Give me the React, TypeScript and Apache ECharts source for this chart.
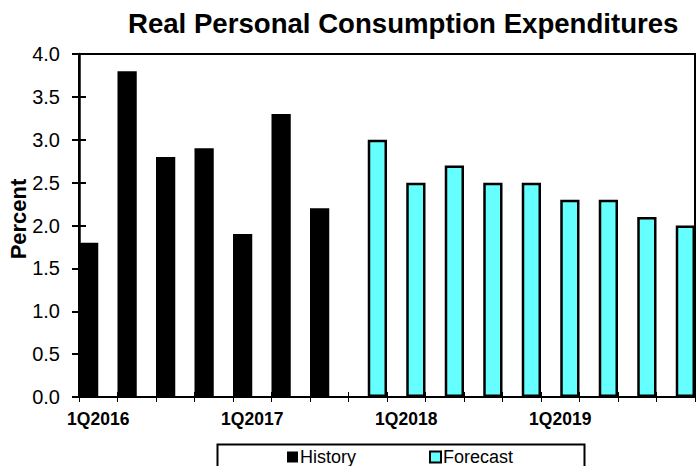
import React, { useEffect, useRef } from "react";
import * as echarts from "echarts";

const categories = [
  "1Q2016", "2Q2016", "3Q2016", "4Q2016",
  "1Q2017", "2Q2017", "3Q2017", "4Q2017",
  "1Q2018", "2Q2018", "3Q2018", "4Q2018",
  "1Q2019", "2Q2019", "3Q2019", "4Q2019",
];
const historyValues = [1.8, 3.8, 2.8, 2.9, 1.9, 3.3, 2.2, null, null, null, null, null, null, null, null, null];
const forecastValues = [null, null, null, null, null, null, null, 3.0, 2.5, 2.7, 2.5, 2.5, 2.3, 2.3, 2.1, 2.0];
const titleText = "Real Personal Consumption Expenditures";
const yAxisTitle = "Percent";
const seriesNames = ["History", "Forecast"];

const FONT = "'Liberation Sans', Arial, sans-serif";

export default function App() {
  const ref = useRef<HTMLDivElement>(null);
  useEffect(() => {
    if (!ref.current) return;
    const chart = echarts.init(ref.current, null, { renderer: "svg" });
    const yBase = {
      type: "value",
      min: 0,
      max: 4,
      interval: 0.5,
      splitLine: { show: false },
    };
    chart.setOption({
      animation: false,
      backgroundColor: "#ffffff",
      textStyle: { fontFamily: FONT },
      title: {
        text: titleText,
        left: 128,
        top: 9,
        padding: 0,
        textStyle: { fontFamily: FONT, fontSize: 27.6, fontWeight: "bold", color: "#000" },
      },
      grid: {
        left: 79,
        right: 1,
        top: 54,
        bottom: 69,
        containLabel: false,
        outerBoundsMode: "none",
        show: true,
        borderColor: "#000",
        borderWidth: 2,
        backgroundColor: "transparent",
      },
      graphic: [
        {
          type: "rect",
          left: 215,
          top: 442,
          shape: { width: 367, height: 40 },
          style: { fill: "none", stroke: "#000", lineWidth: 2 },
          silent: true,
        },
        {
          type: "text",
          x: 18,
          y: 219,
          rotation: Math.PI / 2,
          silent: true,
          style: {
            text: yAxisTitle,
            fontFamily: FONT,
            fontSize: 22,
            fontWeight: "bold",
            fill: "#000",
            align: "center",
            verticalAlign: "middle",
          },
        },
      ],
      legend: {
        data: seriesNames,
        left: 287,
        top: 448,
        orient: "horizontal",
        padding: 0,
        itemGap: 73,
        itemWidth: 11,
        itemHeight: 11,
        icon: "rect",
        textStyle: { fontFamily: FONT, fontSize: 18, color: "#000", padding: [0, 0, 0, -3] },
      },
      xAxis: [
        {
          type: "category",
          data: categories,
          boundaryGap: true,
          axisLine: { show: true, lineStyle: { color: "#000", width: 2 } },
          axisTick: { show: true, interval: 0, length: 5, inside: false, lineStyle: { color: "#000", width: 1 } },
          axisLabel: {
            interval: 3,
            margin: 13,
            fontFamily: FONT,
            fontSize: 17.5,
            fontWeight: "bold",
            color: "#000",
          },
          splitLine: { show: false },
        },
        {
          type: "category",
          data: categories,
          position: "bottom",
          boundaryGap: true,
          axisLine: { show: false },
          axisTick: { show: true, interval: 0, length: 5, inside: true, lineStyle: { color: "#000", width: 1 } },
          axisLabel: { show: false },
          splitLine: { show: false },
        },
      ],
      yAxis: [
        {
          ...yBase,
          axisLine: { show: true, lineStyle: { color: "#000", width: 2.5 } },
          axisTick: { show: true, length: 7, inside: false, lineStyle: { color: "#000", width: 2 } },
          axisLabel: {
            margin: 19,
            fontFamily: FONT,
            fontSize: 20,
            color: "#000",
            formatter: (v: number) => v.toFixed(1),
          },
        },
        {
          ...yBase,
          position: "left",
          axisLine: { show: false },
          axisTick: { show: true, length: 7, inside: true, lineStyle: { color: "#000", width: 2 } },
          axisLabel: { show: false },
        },
      ],
      series: [
        {
          name: seriesNames[0],
          type: "bar",
          xAxisIndex: 0,
          yAxisIndex: 0,
          data: historyValues,
          barGap: "0%",
          barCategoryGap: "0%",
          itemStyle: { color: "#000000", borderColor: "#000000", borderWidth: 0 },
        },
        {
          name: seriesNames[1],
          type: "bar",
          xAxisIndex: 0,
          yAxisIndex: 0,
          data: forecastValues,
          barGap: "0%",
          barCategoryGap: "0%",
          itemStyle: { color: "#66FFFF", borderColor: "#000000", borderWidth: 2.5 },
        },
      ],
    });
    return () => chart.dispose();
  }, []);
  return (
    <div
      ref={ref}
      style={{ position: "fixed", left: 0, top: 0, width: 696, height: 466, background: "#fff" }}
    />
  );
}
